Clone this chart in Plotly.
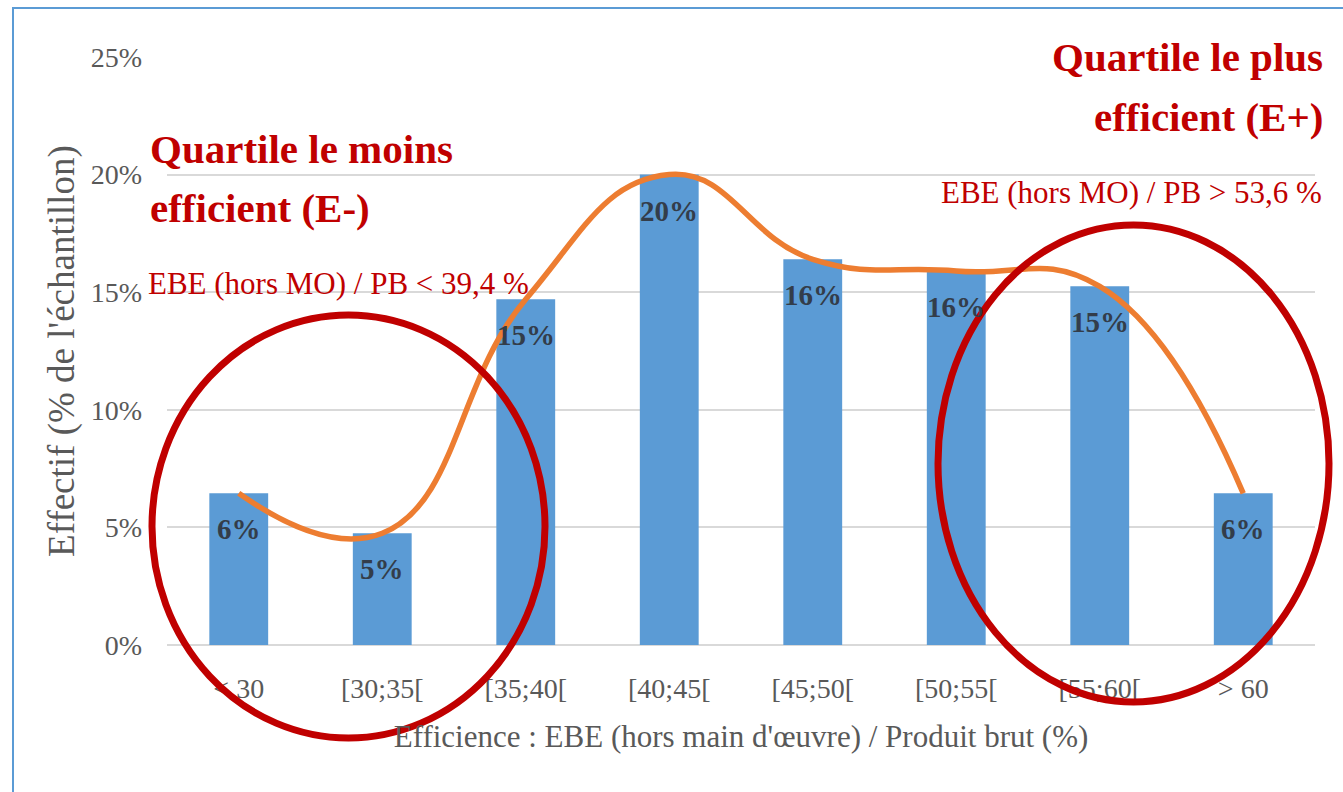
import plotly.graph_objects as go

categories = ["< 30", "[30;35[", "[35;40[", "[40;45[", "[45;50[", "[50;55[", "[55;60[", "> 60"]
effectif = [6.45, 4.75, 14.7, 20.0, 16.4, 15.9, 15.25, 6.45]
y_ticks = [0, 5, 10, 15, 20, 25]
y_tick_labels = ["0%", "5%", "10%", "15%", "20%", "25%"]

SERIF = "Liberation Serif"
GRAY = "#595959"
RED = "#C00000"

W, H = 1343, 792
L, R, T, B = 167, 28, 57, 147
PW, PH = W - L - R, H - T - B


def px(x):
    return (x - L) / PW


def py(y):
    return (H - B - y) / PH


fig = go.Figure()
fig.add_trace(go.Bar(
    x=categories, y=effectif, marker=dict(color="#5B9BD5", line=dict(width=0)),
    hoverinfo="x+y", showlegend=False,
))
fig.add_trace(go.Scatter(
    x=categories, y=effectif, mode="lines",
    line=dict(color="#ED7D31", width=5.5, shape="spline", smoothing=1.3),
    showlegend=False, hoverinfo="skip",
))

annotations = []
for c, v in zip(categories, effectif):
    annotations.append(dict(
        x=c, y=v, xref="x", yref="y", text=f"{round(v)}%", showarrow=False,
        yshift=-36, font=dict(family=SERIF, size=29, color="#333d4a", weight="bold"),
    ))

def txt(text, x, y, xanchor, size, bold):
    annotations.append(dict(
        x=px(x), y=py(y), xref="paper", yref="paper", text=text, showarrow=False,
        xanchor=xanchor, yanchor="middle",
        font=dict(family=SERIF, size=size, color=RED, weight="bold" if bold else "normal"),
    ))

txt("Quartile le moins", 148, 149, "left", 41, True)
txt("efficient (E-)", 148, 208, "left", 41, True)
txt("EBE (hors MO) / PB &lt; 39,4 %", 146, 283, "left", 31, False)
txt("Quartile le plus", 1325, 57, "right", 41, True)
txt("efficient (E+)", 1325, 117, "right", 41, True)
txt("EBE (hors MO) / PB &gt; 53,6 %", 1324, 192, "right", 31, False)

shapes = [
    dict(type="rect", xref="paper", yref="paper", x0=px(13), x1=px(1400), y0=py(850), y1=py(8),
         line=dict(color="#5B9BD5", width=2), layer="below"),
    dict(type="circle", xref="paper", yref="paper", x0=px(152), x1=px(545), y0=py(738), y1=py(315),
         line=dict(color=RED, width=7), layer="above"),
    dict(type="circle", xref="paper", yref="paper", x0=px(938), x1=px(1329), y0=py(702), y1=py(225),
         line=dict(color=RED, width=7), layer="above"),
]

fig.update_layout(
    width=W, height=H,
    margin=dict(l=L, r=R, t=T, b=B, autoexpand=False),
    paper_bgcolor="white", plot_bgcolor="white",
    bargap=0.59,
    font=dict(family=SERIF, color=GRAY),
    annotations=annotations, shapes=shapes,
    xaxis=dict(
        tickfont=dict(family=SERIF, size=28, color=GRAY), ticks="", showgrid=False,
        showline=False, ticklabelstandoff=24,
        title=dict(text="Efficience : EBE (hors main d'œuvre) / Produit brut (%)",
                   font=dict(family=SERIF, size=31, color=GRAY), standoff=22),
    ),
    yaxis=dict(
        range=[0, 25], tickvals=y_ticks, ticktext=y_tick_labels,
        tickfont=dict(family=SERIF, size=28, color=GRAY), ticks="",
        showgrid=True, gridcolor="#D9D9D9", gridwidth=2, zeroline=True,
        zerolinecolor="#D9D9D9", zerolinewidth=2, showline=False, ticklabelstandoff=24,
        title=dict(text="Effectif (% de l'échantillon)",
                   font=dict(family=SERIF, size=37, color=GRAY), standoff=4),
    ),
)

fig.write_html("out.html", config={"displayModeBar": False},
               post_script="document.body.style.margin='0';document.body.style.overflow='hidden';")
